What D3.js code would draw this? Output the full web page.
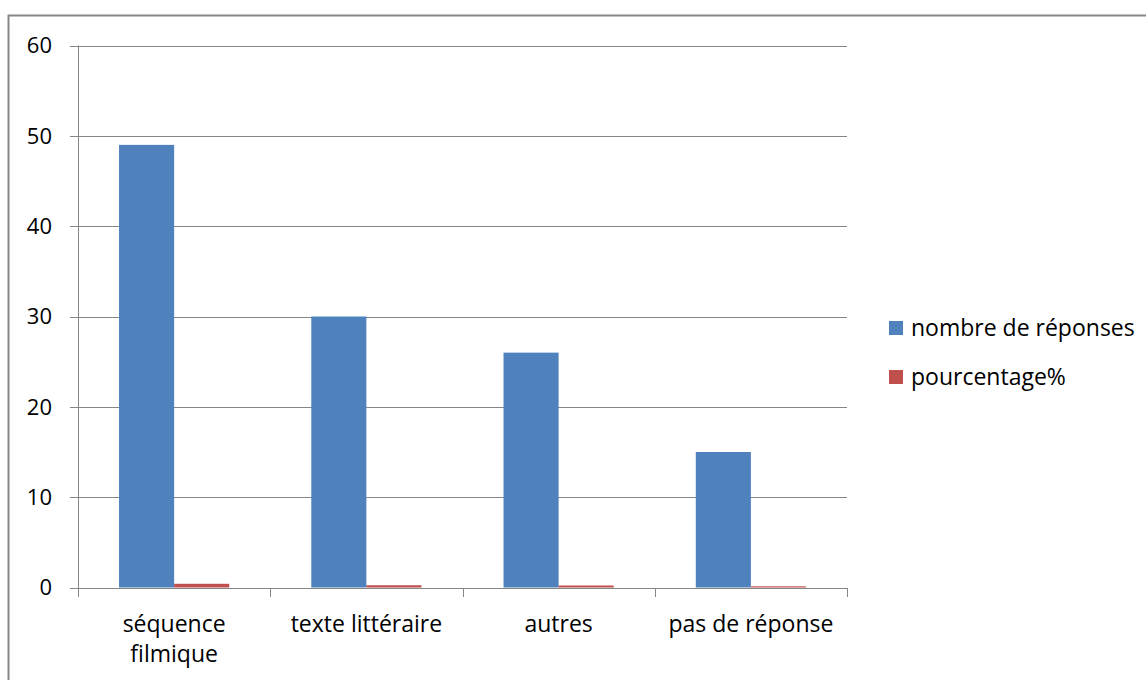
<!DOCTYPE html>
<html>
<head>
<meta charset="utf-8">
<script src="https://cdn.jsdelivr.net/npm/d3@7"></script>
<style>
  body { margin: 0; background: #fff; }
  svg { display: block; font-family: "Open Sans", sans-serif; }
</style>
</head>
<body>
<svg width="1146" height="680"></svg>
<script>
// chart data
var categories = [["séquence", "filmique"], ["texte littéraire"], ["autres"], ["pas de réponse"]];
var seriesNames = ["nombre de réponses", "pourcentage%"];
var reponses = [49, 30, 26, 15];
var pourcentage = [0.41, 0.25, 0.22, 0.13];
var yTicks = [0, 10, 20, 30, 40, 50, 60];
var colors = ["#4f81bd", "#c0504d"];

var svg = d3.select("svg"),
    plotLeft = 78, plotRight = 847, plotTop = 45.5, plotBottom = 587.5;

// outer frame (only top and left edges visible)
svg.append("path")
    .attr("d", "M8.5,700 V15.5 H1160")
    .attr("fill", "none")
    .attr("stroke", "#868686")
    .attr("stroke-width", 2);

var y = d3.scaleLinear().domain([0, 60]).range([plotBottom, plotTop]);
var x0 = d3.scaleBand().domain(d3.range(categories.length)).range([plotLeft, plotRight]);
var x1 = d3.scaleBand().domain([0, 1]).range([0, x0.bandwidth()]).paddingOuter(0.745);

// gridlines
svg.append("g")
    .selectAll("line")
    .data(yTicks)
    .enter().append("line")
        .attr("x1", plotLeft - 8)
        .attr("x2", plotRight)
        .attr("y1", function(d) { return Math.round(y(d)) + 0.5; })
        .attr("y2", function(d) { return Math.round(y(d)) + 0.5; })
        .attr("stroke", "#868686")
        .attr("stroke-width", 1);

// y labels
svg.append("g")
    .selectAll("text")
    .data(yTicks)
    .enter().append("text")
        .attr("x", 52)
        .attr("y", function(d) { return y(d); })
        .attr("dy", "0.36em")
        .attr("text-anchor", "end")
        .attr("font-size", 22)
        .attr("fill", "#000")
        .text(function(d) { return d; });

// bars
var groups = svg.append("g")
    .selectAll("g")
    .data(categories)
    .enter().append("g")
        .attr("transform", function(d, i) { return "translate(" + x0(i) + ",0)"; });

groups.append("rect")
    .attr("x", x1(0))
    .attr("width", x1.bandwidth())
    .attr("y", function(d, i) { return y(reponses[i]); })
    .attr("height", function(d, i) { return y(0) - y(reponses[i]); })
    .attr("fill", colors[0]);

groups.append("rect")
    .attr("x", x1(1))
    .attr("width", x1.bandwidth())
    .attr("y", function(d, i) { return y(pourcentage[i]); })
    .attr("height", function(d, i) { return y(0) - y(pourcentage[i]); })
    .attr("fill", colors[1]);

// axes lines
svg.append("line")
    .attr("x1", plotLeft + 0.5).attr("x2", plotLeft + 0.5)
    .attr("y1", plotTop).attr("y2", plotBottom + 8)
    .attr("stroke", "#868686");
svg.append("line")
    .attr("x1", plotLeft - 8).attr("x2", plotRight)
    .attr("y1", Math.round(y(0)) + 0.5).attr("y2", Math.round(y(0)) + 0.5)
    .attr("stroke", "#868686");

// category ticks
svg.append("g")
    .selectAll("line")
    .data(d3.range(categories.length + 1))
    .enter().append("line")
        .attr("x1", function(d) { return Math.round(plotLeft + d * x0.step()) + 0.5; })
        .attr("x2", function(d) { return Math.round(plotLeft + d * x0.step()) + 0.5; })
        .attr("y1", Math.round(y(0)))
        .attr("y2", Math.round(y(0)) + 9)
        .attr("stroke", "#868686");

// category labels
var labels = svg.append("g")
    .selectAll("text")
    .data(categories)
    .enter().append("text")
        .attr("text-anchor", "middle")
        .attr("font-size", 23)
        .attr("fill", "#000")
        .attr("transform", function(d, i) { return "translate(" + (x0(i) + x0.bandwidth() / 2) + ",632)"; });

labels.selectAll("tspan")
    .data(function(d) { return d; })
    .enter().append("tspan")
        .attr("x", 0)
        .attr("y", function(d, i) { return i * 30; })
        .text(function(d) { return d; });

// legend
var legend = svg.append("g")
    .selectAll("g")
    .data(seriesNames)
    .enter().append("g")
        .attr("transform", function(d, i) { return "translate(889," + (321 + i * 49) + ")"; });

legend.append("rect")
    .attr("width", 14)
    .attr("height", 14)
    .attr("fill", function(d, i) { return colors[i]; });

legend.append("text")
    .attr("x", 22)
    .attr("y", 7)
    .attr("dy", "0.36em")
    .attr("font-size", 23)
    .attr("fill", "#000")
    .text(function(d) { return d; });
</script>
</body>
</html>
